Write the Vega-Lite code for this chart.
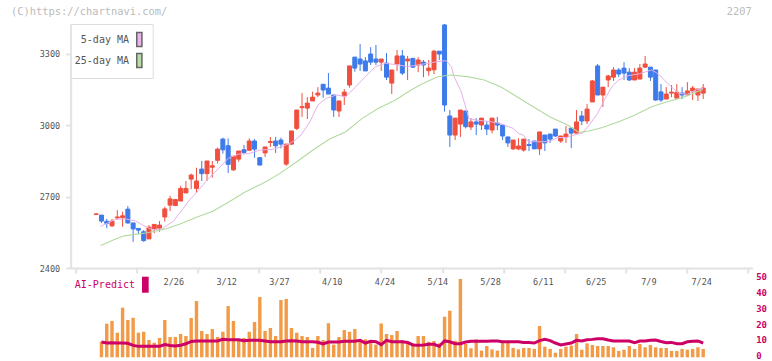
{
"$schema": "https://vega.github.io/schema/vega-lite/v6.json",
"autosize": "none",
"width": 682, "height": 244,
"padding": {"left": 70.7, "top": 24, "right": 19.3, "bottom": 93},
"background": "white",
"config": {"view": {"stroke": null}, "font": "DejaVu Sans Mono", "axis": {"labelFont": "DejaVu Sans Mono"}, "legend": {"labelFont": "DejaVu Sans Mono"}},
"datasets": {
"px": [
{"i":0,"d":"2/3","o":2625,"h":2630,"l":2622,"c":2627},
{"i":1,"d":"2/4","o":2622,"h":2622,"l":2589,"c":2597,"v":9.8,"a":9.6},
{"i":2,"d":"2/5","o":2596,"h":2606,"l":2567,"c":2587,"v":21.2,"a":9.0},
{"i":3,"d":"2/6","o":2577,"h":2606,"l":2572,"c":2597,"v":22.9,"a":9.2},
{"i":4,"d":"2/7","o":2610,"h":2643,"l":2608,"c":2614,"v":15.5,"a":9.0},
{"i":5,"d":"2/10","o":2611,"h":2636,"l":2573,"c":2619,"v":31.3,"a":9.0},
{"i":6,"d":"2/12","o":2647,"h":2660,"l":2586,"c":2589,"v":23.5,"a":8.8},
{"i":7,"d":"2/13","o":2589,"h":2589,"l":2510,"c":2564,"v":25,"a":7.5},
{"i":8,"d":"2/14","o":2566,"h":2566,"l":2542,"c":2559,"v":15.5,"a":6.9},
{"i":9,"d":"2/17","o":2552,"h":2559,"l":2510,"c":2515,"v":16.1,"a":6.9},
{"i":10,"d":"2/18","o":2522,"h":2580,"l":2522,"c":2571,"v":10.9,"a":6.9},
{"i":11,"d":"2/19","o":2564,"h":2583,"l":2546,"c":2583,"v":9.2,"a":6.9},
{"i":12,"d":"2/20","o":2567,"h":2597,"l":2552,"c":2580,"v":12.2,"a":6.9},
{"i":13,"d":"2/21","o":2614,"h":2657,"l":2594,"c":2648,"v":23.5,"a":8.0},
{"i":14,"d":"2/25","o":2664,"h":2703,"l":2639,"c":2690,"v":12.8,"a":7.5},
{"i":15,"d":"2/26","o":2662,"h":2689,"l":2661,"c":2687,"v":12.8,"a":7.1},
{"i":16,"d":"2/27","o":2681,"h":2745,"l":2681,"c":2734,"v":14.7,"a":7.6},
{"i":17,"d":"2/28","o":2715,"h":2765,"l":2715,"c":2734,"v":13.4,"a":8.5},
{"i":18,"d":"3/3","o":2773,"h":2796,"l":2731,"c":2790,"v":24.8,"a":10.0},
{"i":19,"d":"3/4","o":2734,"h":2821,"l":2715,"c":2765,"v":35.5,"a":10.3},
{"i":20,"d":"3/5","o":2815,"h":2849,"l":2765,"c":2796,"v":16.6,"a":10.3},
{"i":21,"d":"3/6","o":2796,"h":2849,"l":2765,"c":2849,"v":14.7,"a":10.3},
{"i":22,"d":"3/7","o":2823,"h":2849,"l":2779,"c":2829,"v":17.8,"a":10.3},
{"i":23,"d":"3/10","o":2852,"h":2905,"l":2838,"c":2899,"v":12.8,"a":10.3},
{"i":24,"d":"3/11","o":2941,"h":2947,"l":2880,"c":2896,"v":16.1,"a":11.3},
{"i":25,"d":"3/12","o":2913,"h":2944,"l":2799,"c":2835,"v":32.3,"a":11.0},
{"i":26,"d":"3/13","o":2812,"h":2869,"l":2807,"c":2869,"v":22.9,"a":11.0},
{"i":27,"d":"3/14","o":2857,"h":2891,"l":2846,"c":2891,"v":10.9,"a":11.0},
{"i":28,"d":"3/17","o":2896,"h":2916,"l":2877,"c":2885,"v":12.2,"a":10.5},
{"i":29,"d":"3/18","o":2894,"h":2944,"l":2894,"c":2933,"v":16.1,"a":10.7},
{"i":30,"d":"3/19","o":2933,"h":2941,"l":2863,"c":2899,"v":22.3,"a":10.7},
{"i":31,"d":"3/21","o":2863,"h":2863,"l":2832,"c":2832,"v":38,"a":10.7},
{"i":32,"d":"3/24","o":2883,"h":2908,"l":2866,"c":2908,"v":16.6,"a":10.3},
{"i":33,"d":"3/25","o":2927,"h":2950,"l":2908,"c":2931,"v":18.5,"a":9.8},
{"i":34,"d":"3/26","o":2933,"h":2950,"l":2883,"c":2913,"v":13.4,"a":9.8},
{"i":35,"d":"3/27","o":2937,"h":2947,"l":2902,"c":2920,"v":36.1,"a":9.8},
{"i":36,"d":"3/28","o":2836,"h":2920,"l":2829,"c":2920,"v":36.8,"a":10.3},
{"i":37,"d":"3/31","o":2920,"h":2975,"l":2916,"c":2975,"v":18.5,"a":10.5},
{"i":38,"d":"4/1","o":2986,"h":3063,"l":2979,"c":3063,"v":15.5,"a":10.3},
{"i":39,"d":"4/2","o":3073,"h":3134,"l":3034,"c":3077,"v":13.4,"a":9.8},
{"i":40,"d":"4/3","o":3071,"h":3117,"l":3025,"c":3092,"v":12.8,"a":9.8},
{"i":41,"d":"4/4","o":3101,"h":3140,"l":3101,"c":3117,"v":5.9,"a":9.8},
{"i":42,"d":"4/7","o":3126,"h":3159,"l":3117,"c":3134,"v":13.4,"a":9.5},
{"i":43,"d":"4/8","o":3171,"h":3171,"l":3114,"c":3147,"v":10.9,"a":8.4},
{"i":44,"d":"4/9","o":3155,"h":3218,"l":3130,"c":3130,"v":21.5,"a":9.6},
{"i":45,"d":"4/10","o":3126,"h":3126,"l":3034,"c":3063,"v":8.0,"a":9.6},
{"i":46,"d":"4/11","o":3059,"h":3101,"l":3034,"c":3101,"v":12.8,"a":9.6},
{"i":47,"d":"4/14","o":3122,"h":3151,"l":3084,"c":3138,"v":17.2,"a":10.1},
{"i":48,"d":"4/15","o":3168,"h":3248,"l":3157,"c":3248,"v":16.1,"a":10.1},
{"i":49,"d":"4/16","o":3285,"h":3285,"l":3224,"c":3239,"v":17.8,"a":10.1},
{"i":50,"d":"4/17","o":3277,"h":3340,"l":3227,"c":3256,"v":10.9,"a":10.7},
{"i":51,"d":"4/18","o":3269,"h":3285,"l":3227,"c":3227,"v":11.3,"a":9.0},
{"i":52,"d":"4/21","o":3298,"h":3327,"l":3252,"c":3264,"v":10.9,"a":10.1},
{"i":53,"d":"4/22","o":3277,"h":3336,"l":3252,"c":3264,"v":8.0,"a":9.8},
{"i":54,"d":"4/23","o":3264,"h":3277,"l":3227,"c":3277,"v":21.3,"a":8.0},
{"i":55,"d":"4/24","o":3260,"h":3302,"l":3189,"c":3201,"v":14.7,"a":10.7},
{"i":56,"d":"4/25","o":3176,"h":3231,"l":3130,"c":3231,"v":14,"a":9.8},
{"i":57,"d":"4/28","o":3256,"h":3315,"l":3227,"c":3290,"v":16.6,"a":9.8},
{"i":58,"d":"4/30","o":3290,"h":3315,"l":3210,"c":3218,"v":10.9,"a":9.8},
{"i":59,"d":"5/1","o":3269,"h":3290,"l":3189,"c":3277,"v":9.8,"a":9.4},
{"i":60,"d":"5/7","o":3280,"h":3280,"l":3239,"c":3243,"v":8.8,"a":7.8},
{"i":61,"d":"5/8","o":3252,"h":3285,"l":3222,"c":3273,"v":13.4,"a":7.6},
{"i":62,"d":"5/9","o":3264,"h":3273,"l":3201,"c":3252,"v":13.4,"a":7.8},
{"i":63,"d":"5/12","o":3228,"h":3273,"l":3207,"c":3239,"v":9.8,"a":8.2},
{"i":64,"d":"5/13","o":3232,"h":3315,"l":3214,"c":3310,"v":10.3,"a":8.2},
{"i":65,"d":"5/14","o":3310,"h":3310,"l":3273,"c":3298,"v":8.8,"a":6.9},
{"i":66,"d":"5/15","o":3420,"h":3424,"l":3056,"c":3084,"v":25.6,"a":10.3},
{"i":67,"d":"5/16","o":3038,"h":3063,"l":2908,"c":2958,"v":29.4,"a":9.8},
{"i":68,"d":"5/19","o":2958,"h":3029,"l":2937,"c":3029,"v":10.5,"a":8.6},
{"i":69,"d":"5/20","o":3004,"h":3063,"l":2950,"c":3063,"v":49.4,"a":8.6},
{"i":70,"d":"5/21","o":3059,"h":3059,"l":2986,"c":2993,"v":8.4,"a":9.6},
{"i":71,"d":"5/22","o":2992,"h":3029,"l":2979,"c":3013,"v":5.7,"a":10.1},
{"i":72,"d":"5/23","o":3013,"h":3029,"l":2958,"c":3004,"v":11.3,"a":10.1},
{"i":73,"d":"5/26","o":3000,"h":3029,"l":2979,"c":3029,"v":4.2,"a":10.1},
{"i":74,"d":"5/27","o":3000,"h":3017,"l":2958,"c":2983,"v":7.1,"a":10.1},
{"i":75,"d":"5/28","o":2979,"h":3029,"l":2965,"c":3029,"v":5,"a":10.3},
{"i":76,"d":"5/29","o":3008,"h":3034,"l":2979,"c":3000,"v":4.2,"a":10.3},
{"i":77,"d":"5/30","o":3000,"h":3000,"l":2937,"c":2954,"v":9.2,"a":9.8},
{"i":78,"d":"6/2","o":2950,"h":2950,"l":2908,"c":2925,"v":9.8,"a":9.8},
{"i":79,"d":"6/3","o":2900,"h":2937,"l":2895,"c":2937,"v":5.9,"a":9.8},
{"i":80,"d":"6/4","o":2900,"h":2945,"l":2895,"c":2912,"v":5,"a":9.8},
{"i":81,"d":"6/5","o":2895,"h":2941,"l":2888,"c":2941,"v":5.9,"a":9.4},
{"i":82,"d":"6/6","o":2918,"h":2941,"l":2891,"c":2914,"v":5.9,"a":9.4},
{"i":83,"d":"6/9","o":2933,"h":2933,"l":2900,"c":2900,"v":5.3,"a":9.0},
{"i":84,"d":"6/10","o":2900,"h":2971,"l":2874,"c":2971,"v":19.7,"a":10.5},
{"i":85,"d":"6/11","o":2958,"h":2958,"l":2891,"c":2925,"v":6.7,"a":11.3},
{"i":86,"d":"6/12","o":2962,"h":2962,"l":2925,"c":2941,"v":5.3,"a":10.5},
{"i":87,"d":"6/13","o":2983,"h":2983,"l":2950,"c":2954,"v":2.9,"a":9.0},
{"i":88,"d":"6/16","o":2933,"h":2954,"l":2925,"c":2954,"v":5.3,"a":7.8},
{"i":89,"d":"6/17","o":2950,"h":2996,"l":2925,"c":2962,"v":6.7,"a":8.4},
{"i":90,"d":"6/18","o":2987,"h":2987,"l":2903,"c":2966,"v":7.4,"a":9.0},
{"i":91,"d":"6/19","o":2966,"h":3063,"l":2966,"c":3013,"v":14.7,"a":10.7},
{"i":92,"d":"6/20","o":3038,"h":3059,"l":3000,"c":3017,"v":4.8,"a":10.3},
{"i":93,"d":"6/23","o":3017,"h":3088,"l":3004,"c":3067,"v":8.8,"a":11.0},
{"i":94,"d":"6/24","o":3097,"h":3189,"l":3097,"c":3185,"v":7.8,"a":11.3},
{"i":95,"d":"6/25","o":3248,"h":3256,"l":3126,"c":3126,"v":7.1,"a":11.7},
{"i":96,"d":"6/26","o":3126,"h":3159,"l":3076,"c":3159,"v":7.1,"a":11.7},
{"i":97,"d":"6/27","o":3189,"h":3210,"l":3159,"c":3206,"v":7.1,"a":10.9},
{"i":98,"d":"6/30","o":3201,"h":3243,"l":3185,"c":3231,"v":6.3,"a":10.3},
{"i":99,"d":"7/1","o":3231,"h":3239,"l":3201,"c":3214,"v":4.0,"a":10.3},
{"i":100,"d":"7/2","o":3239,"h":3264,"l":3189,"c":3218,"v":4.8,"a":10.3},
{"i":101,"d":"7/3","o":3222,"h":3239,"l":3185,"c":3189,"v":7.1,"a":10.3},
{"i":102,"d":"7/4","o":3189,"h":3239,"l":3189,"c":3222,"v":5.3,"a":9.2},
{"i":103,"d":"7/7","o":3193,"h":3256,"l":3193,"c":3239,"v":8.4,"a":10.3},
{"i":104,"d":"7/8","o":3243,"h":3290,"l":3239,"c":3256,"v":6.3,"a":10.3},
{"i":105,"d":"7/9","o":3243,"h":3243,"l":3185,"c":3201,"v":7.8,"a":10.7},
{"i":106,"d":"7/10","o":3231,"h":3231,"l":3101,"c":3105,"v":6.3,"a":10.9},
{"i":107,"d":"7/11","o":3139,"h":3172,"l":3097,"c":3105,"v":5.9,"a":10.0},
{"i":108,"d":"7/14","o":3109,"h":3159,"l":3109,"c":3130,"v":5.9,"a":9.2},
{"i":109,"d":"7/15","o":3134,"h":3168,"l":3117,"c":3138,"v":4.0,"a":9.4},
{"i":110,"d":"7/16","o":3113,"h":3172,"l":3113,"c":3138,"v":4.0,"a":8.6},
{"i":111,"d":"7/17","o":3134,"h":3159,"l":3109,"c":3126,"v":5.3,"a":8.6},
{"i":112,"d":"7/18","o":3126,"h":3180,"l":3126,"c":3143,"v":4.8,"a":9.8},
{"i":113,"d":"7/22","o":3143,"h":3164,"l":3105,"c":3155,"v":5.3,"a":10.1},
{"i":114,"d":"7/23","o":3126,"h":3151,"l":3101,"c":3151,"v":6.3,"a":10.3},
{"i":115,"d":"7/24","o":3134,"h":3172,"l":3109,"c":3155,"v":5.3,"a":9.0}
],
"ma5": [
{"i":0.84,"m":2575},{"i":2.5,"m":2592},{"i":3.6,"m":2604},{"i":5.6,"m":2606},{"i":6.6,"m":2601},{"i":7.5,"m":2597},{"i":9.05,"m":2577},{"i":10.7,"m":2560},{"i":12.6,"m":2565},{"i":14,"m":2588},{"i":14.65,"m":2596},{"i":15.6,"m":2625},{"i":16.5,"m":2650},{"i":17.5,"m":2681},{"i":19,"m":2716},{"i":20.9,"m":2767},{"i":23.2,"m":2818},{"i":25,"m":2860},{"i":26.9,"m":2878},{"i":28.9,"m":2880},{"i":31,"m":2895},{"i":33.3,"m":2898},{"i":35,"m":2908},{"i":36.7,"m":2923},{"i":37.7,"m":2937},{"i":38.8,"m":2958},{"i":40.5,"m":3014},{"i":42,"m":3084},{"i":43.6,"m":3112},{"i":45.5,"m":3126},{"i":47.3,"m":3119},{"i":49.2,"m":3161},{"i":51,"m":3203},{"i":52.9,"m":3245},{"i":54.8,"m":3259},{"i":57.3,"m":3252},{"i":59,"m":3245},{"i":61.7,"m":3255},{"i":64.6,"m":3266},{"i":66.3,"m":3270},{"i":67.3,"m":3245},{"i":67.8,"m":3203},{"i":69.1,"m":3143},{"i":70,"m":3075},{"i":70.6,"m":3028},{"i":71.9,"m":3021},{"i":74.7,"m":3014},{"i":76.5,"m":3007},{"i":78.1,"m":2993},{"i":79,"m":2986},{"i":80,"m":2965},{"i":80.9,"m":2958},{"i":81.9,"m":2930},{"i":83.4,"m":2930},{"i":85.8,"m":2930},{"i":87.5,"m":2948},{"i":89,"m":2947},{"i":91.2,"m":2962},{"i":92.1,"m":2965},{"i":93.5,"m":3003},{"i":95,"m":3049},{"i":96.4,"m":3110},{"i":97.7,"m":3161},{"i":99,"m":3189},{"i":100.8,"m":3207},{"i":102.9,"m":3215},{"i":105.2,"m":3231},{"i":106.1,"m":3220},{"i":107,"m":3203},{"i":108.6,"m":3168},{"i":110.3,"m":3133},{"i":112,"m":3129},{"i":113.7,"m":3147},{"i":115,"m":3154}
],
"ma25": [
{"i":0.84,"m":2494},{"i":3.45,"m":2520},{"i":5.3,"m":2535},{"i":9.7,"m":2548},{"i":12.8,"m":2562},{"i":15.9,"m":2585},{"i":19,"m":2613},{"i":22.1,"m":2638},{"i":25.2,"m":2678},{"i":28.3,"m":2720},{"i":31.5,"m":2755},{"i":34.6,"m":2794},{"i":38,"m":2846},{"i":41.1,"m":2895},{"i":44.2,"m":2941},{"i":47.3,"m":2972},{"i":50.4,"m":3028},{"i":53.5,"m":3070},{"i":56.7,"m":3105},{"i":59.5,"m":3145},{"i":61.6,"m":3171},{"i":64.7,"m":3203},{"i":67.2,"m":3210},{"i":70.3,"m":3203},{"i":73.5,"m":3189},{"i":76.6,"m":3161},{"i":79.7,"m":3119},{"i":82.8,"m":3077},{"i":85.9,"m":3035},{"i":89.3,"m":3000},{"i":91.5,"m":2969},{"i":93.4,"m":2975},{"i":95.9,"m":2990},{"i":99,"m":3014},{"i":102.1,"m":3042},{"i":105.2,"m":3077},{"i":108.5,"m":3100},{"i":111.1,"m":3115},{"i":114.9,"m":3149}
],
"leg": [{"s":"5-day MA"},{"s":"25-day MA"}],
"leg2": [{"s":"AI-Predict"}]
},
"resolve": {"scale": {"y": "independent", "color": "independent"}},
"layer": [
{
"layer": [
{"data": {"name": "px"},
 "mark": {"type": "rule", "strokeWidth": 1},
 "encoding": {
  "x": {"field": "i", "type": "quantitative", "scale": {"domain": [-3.88, 123.43], "nice": false, "zero": false},
        "axis": {"title": null, "values": [-3.88, 7.694, 19.267, 30.841, 42.415, 53.989, 65.562, 77.136, 88.71, 100.283, 111.857, 123.43], "labels": false, "ticks": true, "tickSize": 5, "tickWidth": 2, "tickColor": "#e2e2e2", "domainColor": "#e2e2e2", "domainWidth": 2, "grid": false}},
  "y": {"field": "l", "type": "quantitative", "scale": {"domain": [2400, 3424], "nice": false, "zero": false},
        "axis": {"title": null, "values": [2400, 2700, 3000, 3300], "format": "d", "tickSize": 5, "tickWidth": 2, "tickColor": "#e2e2e2", "domainColor": "#e2e2e2", "domainWidth": 2, "labelColor": "#555555", "labelFontSize": 8.5, "labelPadding": 6, "grid": false}},
  "y2": {"field": "h"},
  "color": {"condition": {"test": "datum.c >= datum.o", "value": "#f04f3e"}, "value": "#3d7aea"}
 }},
{"data": {"name": "px"},
 "mark": {"type": "bar", "orient": "vertical", "size": 4, "strokeWidth": 1},
 "encoding": {
  "x": {"field": "i", "type": "quantitative"},
  "y": {"field": "o", "type": "quantitative"},
  "y2": {"field": "c"},
  "color": {"condition": {"test": "datum.c >= datum.o", "value": "#f04f3e"}, "value": "#3d7aea"},
  "stroke": {"condition": {"test": "datum.c >= datum.o", "value": "#f04f3e"}, "value": "#3d7aea"}
 }},
{"data": {"name": "ma5"},
 "mark": {"type": "line", "color": "#e6b0ea", "strokeWidth": 1},
 "encoding": {"x": {"field": "i", "type": "quantitative"}, "y": {"field": "m", "type": "quantitative"}}},
{"data": {"name": "ma25"},
 "mark": {"type": "line", "color": "#b3da9f", "strokeWidth": 1.1},
 "encoding": {"x": {"field": "i", "type": "quantitative"}, "y": {"field": "m", "type": "quantitative"}}},
{"data": {"name": "px"},
 "transform": [{"filter": "datum.i >= 15 && datum.i % 10 == 5"}],
 "mark": {"type": "text", "dy": 14, "dx": -1.5, "fontSize": 8.5, "color": "#555555", "baseline": "middle", "font": "DejaVu Sans Mono"},
 "encoding": {"x": {"field": "i", "type": "quantitative"}, "y": {"datum": 2400, "type": "quantitative"}, "text": {"field": "d"}}},
{"data": {"values": [{"t": "(C)https://chartnavi.com/"}]},
 "mark": {"type": "text", "align": "left", "baseline": "middle", "fontSize": 10.4, "color": "#bbbbbb", "font": "DejaVu Sans Mono"},
 "encoding": {"x": {"datum": -16.14, "type": "quantitative"}, "y": {"datum": 3475, "type": "quantitative"}, "text": {"field": "t"}}},
{"data": {"values": [{"t": "2207"}]},
 "mark": {"type": "text", "align": "right", "baseline": "middle", "fontSize": 10.4, "color": "#bbbbbb", "font": "DejaVu Sans Mono"},
 "encoding": {"x": {"datum": 124.2, "type": "quantitative"}, "y": {"datum": 3475, "type": "quantitative"}, "text": {"field": "t"}}},
{"data": {"name": "leg"},
 "mark": {"type": "square", "opacity": 0, "filled": true},
 "encoding": {"color": {"field": "s", "type": "nominal", "scale": {"domain": ["5-day MA", "25-day MA"], "range": ["#e9b5ec", "#b8dda7"]},
   "legend": {"title": null, "orient": "top-left", "offset": 0, "padding": 7, "strokeColor": "#dddddd", "fillColor": "white",
     "symbolType": "M6.74,-0.947H7.43V0.947H6.74Z", "symbolSize": 225, "symbolStrokeWidth": 1.5, "symbolStrokeColor": "#666666", "symbolOpacity": 1,
     "labelAlign": "right", "labelOffset": 34.3, "labelFontSize": 10, "labelColor": "#555555", "rowPadding": 0,
     "encode": {"symbols": {"update": {"stroke": {"value": "#666666"}, "strokeWidth": {"value": 1.5}, "opacity": {"value": 1}}}}}}}}
]
},
{
"data": {"name": "px"},
"transform": [{"filter": "isValid(datum.v)"}],
"layer": [
{"mark": {"type": "bar", "orient": "vertical", "size": 3.4, "color": "#f29a45"},
 "encoding": {
  "x": {"field": "i", "type": "quantitative"},
  "y": {"field": "v", "type": "quantitative", "scale": {"domain": [0, 50], "range": [333.3, 254], "nice": false},
        "axis": {"title": null, "orient": "right", "values": [0, 10, 20, 30, 40, 50], "domain": false, "ticks": false, "grid": false, "labelColor": "#cc0066", "labelFontWeight": "bold", "labelFontSize": 9, "labelPadding": 3, "labelOffset": -1.5}}
 }},
{"mark": {"type": "line", "color": "#cc0066", "strokeWidth": 3},
 "encoding": {"x": {"field": "i", "type": "quantitative"}, "y": {"field": "a", "type": "quantitative"}}},
{"data": {"name": "leg2"},
 "mark": {"type": "square", "opacity": 0, "filled": true},
 "encoding": {"color": {"field": "s", "type": "nominal", "scale": {"domain": ["AI-Predict"], "range": ["#cc0066"]},
   "legend": {"title": null, "orient": "none", "legendX": 7, "legendY": 246.2, "padding": 7,
     "symbolType": "M6.64,-1.067H7.53V1.067H6.64Z", "symbolSize": 225, "symbolStrokeWidth": 0, "symbolOpacity": 1,
     "labelAlign": "right", "labelOffset": 35.3, "labelFontSize": 10, "labelColor": "#cc0066", "rowPadding": 0,
     "encode": {"symbols": {"update": {"stroke": {"value": "transparent"}, "opacity": {"value": 1}}}}}}}}
]
}
]
}
